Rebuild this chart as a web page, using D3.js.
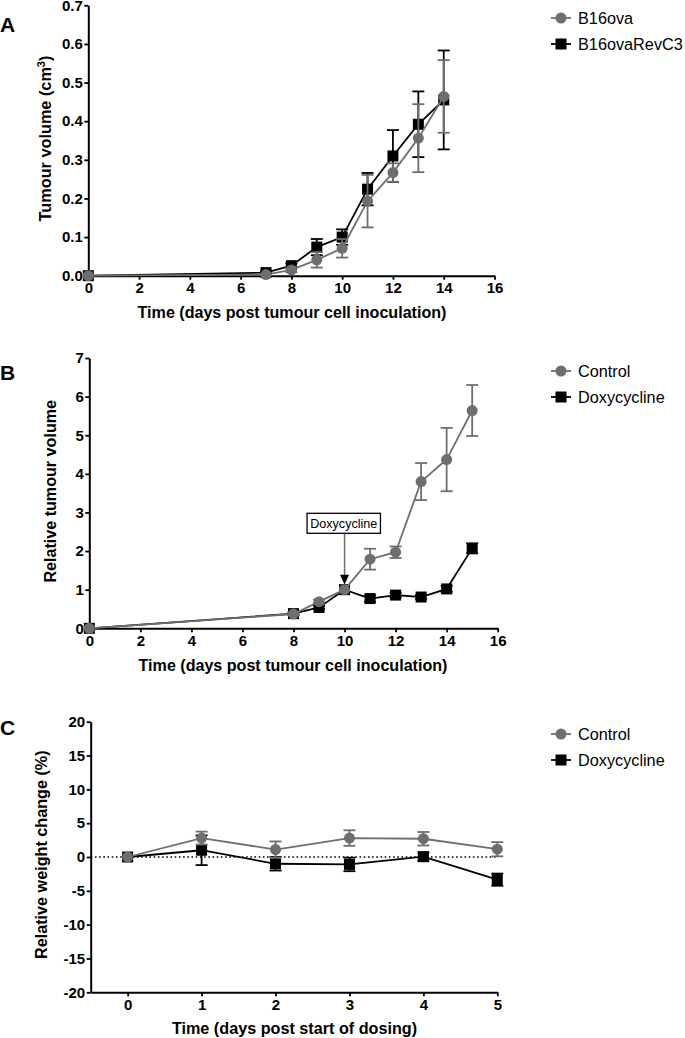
<!DOCTYPE html>
<html>
<head>
<meta charset="utf-8">
<script src="https://cdn.jsdelivr.net/npm/d3@7"></script>
<style>
  html, body { margin: 0; padding: 0; background: #fff; }
  svg { display: block; font-family: "Liberation Sans", Arial, Helvetica, sans-serif; }
</style>
</head>
<body>
<svg id="chart" width="685" height="1038"></svg>
<script>
// ---------- Panel A data ----------
const daysA = [0, 7, 8, 9, 10, 11, 12, 13, 14];
const b16ova = [0, 0.003, 0.015, 0.041, 0.071, 0.193, 0.267, 0.356, 0.464];
const b16ovaErr = [0, 0.002, 0.006, 0.02, 0.024, 0.068, 0.024, 0.088, 0.094];
const b16ovaRevC3 = [0, 0.008, 0.026, 0.074, 0.100, 0.224, 0.310, 0.392, 0.455];
const b16ovaRevC3Err = [0, 0.003, 0.006, 0.021, 0.020, 0.042, 0.067, 0.085, 0.128];
const ticksAx = [0, 2, 4, 6, 8, 10, 12, 14, 16];
const ticksAy = [0, 0.1, 0.2, 0.3, 0.4, 0.5, 0.6, 0.7];

// ---------- Panel B data ----------
const daysB = [0, 8, 9, 10, 11, 12, 13, 14, 15];
const controlB = [0, 0.37, 0.69, 1.0, 1.79, 1.97, 3.80, 4.37, 5.64];
const controlBErr = [0, 0.03, 0.05, 0, 0.27, 0.15, 0.48, 0.82, 0.66];
const doxyB = [0, 0.38, 0.54, 1.0, 0.77, 0.86, 0.81, 1.02, 2.07];
const doxyBErr = [0, 0.03, 0.04, 0, 0.08, 0.06, 0.05, 0.08, 0.13];
const ticksBx = [0, 2, 4, 6, 8, 10, 12, 14, 16];
const ticksBy = [0, 1, 2, 3, 4, 5, 6, 7];

// ---------- Panel C data ----------
const daysC = [0, 1, 2, 3, 4, 5];
const controlC = [0, 2.8, 1.1, 2.8, 2.7, 1.15];
const controlCErr = [0, 0.95, 1.2, 1.15, 1.0, 1.05];
const doxyC = [0, 1.0, -1.0, -1.1, 0.05, -3.35];
const doxyCErr = [0, 2.2, 1.0, 1.0, 0.6, 0.9];
const ticksCx = [0, 1, 2, 3, 4, 5];
const ticksCy = [-20, -15, -10, -5, 0, 5, 10, 15, 20];

const GREY = "#6e6e6e";
const BLACK = "#000000";

const svg = d3.select("#chart");

// scale a text's font size so that its rendered width matches a target width
function fitWidth(sel, target) {
  const fs = parseFloat(sel.style("font-size"));
  const w = sel.node().getComputedTextLength();
  if (w > 0) sel.style("font-size", (fs * target / w).toFixed(2) + "px");
}

// legend font size derived from the reference width of "Doxycycline"
const probe = svg.append("text").style("font-size", "100px").text("Doxycycline");
const legendFont = 100 * 86.7 / probe.node().getComputedTextLength();
probe.remove();

function drawPanel(cfg) {
  const g = svg.append("g");
  const x = d3.scaleLinear().domain(cfg.xDomain).range(cfg.xRange);
  const y = d3.scaleLinear().domain(cfg.yDomain).range(cfg.yRange);

  const xAxis = d3.axisBottom(x).tickValues(cfg.xTicks).tickSize(4).tickSizeOuter(0).tickPadding(3)
    .tickFormat(d => String(d));
  const yAxis = d3.axisLeft(y).tickValues(cfg.yTicks).tickSize(4).tickSizeOuter(0).tickPadding(1.5)
    .tickFormat(cfg.yFormat);
  const gx = g.append("g").attr("transform", `translate(0,${cfg.yRange[0]})`).call(xAxis);
  const gy = g.append("g").attr("transform", `translate(${cfg.xRange[0]},0)`).call(yAxis);
  [gx, gy].forEach(a => {
    a.select(".domain").attr("stroke", "#000").attr("stroke-width", 2);
    a.selectAll(".tick line").attr("stroke", "#000").attr("stroke-width", 1.8);
    a.selectAll(".tick text").attr("fill", "#000").style("font-size", "15px")
      .style("font-weight", "bold").style("font-family", '"Liberation Sans", Arial, sans-serif');
  });

  if (cfg.zeroLine) {
    g.append("line")
      .attr("x1", cfg.xRange[0]).attr("x2", x(cfg.xDomain[1]))
      .attr("y1", y(0)).attr("y2", y(0))
      .attr("stroke", "#000").attr("stroke-width", 1.6).attr("stroke-dasharray", "1.6,2.6");
  }

  cfg.series.forEach(s => {
    const pts = cfg.xs.map((d, i) => ({ x: d, y: s.values[i], e: s.err[i] }));
    const line = d3.line().x(d => x(d.x)).y(d => y(d.y));
    g.append("path").datum(pts).attr("d", line)
      .attr("fill", "none").attr("stroke", s.color).attr("stroke-width", 1.8);
    const eb = g.append("g");
    pts.filter(d => d.e > 0).forEach(d => {
      const cx = x(d.x), y1 = y(d.y - d.e), y2 = y(d.y + d.e);
      eb.append("line").attr("x1", cx).attr("x2", cx).attr("y1", y1).attr("y2", y2)
        .attr("stroke", s.color).attr("stroke-width", 1.8);
      [y1, y2].forEach(yy => eb.append("line").attr("x1", cx - 6).attr("x2", cx + 6)
        .attr("y1", yy).attr("y2", yy).attr("stroke", s.color).attr("stroke-width", 1.8));
    });
    pts.forEach(d => {
      if (s.shape === "circle") {
        g.append("circle").attr("cx", x(d.x)).attr("cy", y(d.y)).attr("r", 5.5).attr("fill", s.color);
      } else {
        g.append("rect").attr("x", x(d.x) - 5.5).attr("y", y(d.y) - 5.5)
          .attr("width", 11).attr("height", 11).attr("fill", s.color);
      }
    });
  });

  // Axis titles
  const xMid = cfg.xTitleMid;
  const xt = g.append("text").attr("x", xMid).attr("y", cfg.xTitleY).attr("text-anchor", "middle")
    .style("font-size", "16px").style("font-weight", "bold").text(cfg.xTitle);
  fitWidth(xt, cfg.xTitleW);
  const yMid = (cfg.yRange[0] + cfg.yRange[1]) / 2;
  const yt = g.append("text").attr("transform", `translate(${cfg.yTitleX},${cfg.yTitleMid}) rotate(-90)`)
    .attr("text-anchor", "middle").style("font-size", "16px").style("font-weight", "bold");
  cfg.yTitle(yt);
  fitWidth(yt, cfg.yTitleW);

  // Panel label
  g.append("text").attr("x", 0).attr("y", cfg.labelY).style("font-size", "21px")
    .style("font-weight", "bold").text(cfg.label);

  // Legend
  const lg = g.append("g");
  cfg.series.slice().reverse().forEach((s, i) => {
    const ly = cfg.legendY + i * 26;
    lg.append("line").attr("x1", 551).attr("x2", 571).attr("y1", ly).attr("y2", ly)
      .attr("stroke", s.color).attr("stroke-width", 1.8);
    if (s.shape === "circle") {
      lg.append("circle").attr("cx", 561).attr("cy", ly).attr("r", 5.5).attr("fill", s.color);
    } else {
      lg.append("rect").attr("x", 555.5).attr("y", ly - 5.5).attr("width", 11).attr("height", 11).attr("fill", s.color);
    }
    lg.append("text").attr("x", 578).attr("y", ly + 5.8).style("font-size", legendFont.toFixed(2) + "px").text(s.name);
  });

  return { g, x, y };
}

// Panel A
drawPanel({
  xs: daysA, xDomain: [0, 16], xRange: [88.3, 494.5],
  yDomain: [0, 0.7], yRange: [275.7, 5.3],
  xTicks: ticksAx, yTicks: ticksAy, yFormat: d3.format(".1f"),
  series: [
    { name: "B16ovaRevC3", values: b16ovaRevC3, err: b16ovaRevC3Err, color: BLACK, shape: "square" },
    { name: "B16ova", values: b16ova, err: b16ovaErr, color: GREY, shape: "circle" }
  ],
  xTitle: "Time (days post tumour cell inoculation)", xTitleY: 318, xTitleMid: 292, xTitleW: 309,
  yTitleX: 51, yTitleMid: 138.5, yTitleW: 166,
  yTitle: t => { t.append("tspan").text("Tumour volume (cm"); t.append("tspan").attr("baseline-shift", "super").style("font-size", "11px").text("3"); t.append("tspan").text(")"); },
  label: "A", labelY: 32, legendY: 18
});

// Panel B
const pB = drawPanel({
  xs: daysB, xDomain: [0, 16], xRange: [89.3, 497.7],
  yDomain: [0, 7], yRange: [628.3, 358],
  xTicks: ticksBx, yTicks: ticksBy, yFormat: d => String(d),
  series: [
    { name: "Doxycycline", values: doxyB, err: doxyBErr, color: BLACK, shape: "square" },
    { name: "Control", values: controlB, err: controlBErr, color: GREY, shape: "circle" }
  ],
  xTitle: "Time (days post tumour cell inoculation)", xTitleY: 671, xTitleMid: 293, xTitleW: 309,
  yTitleX: 55.5, yTitleMid: 491.3, yTitleW: 182.7,
  yTitle: t => t.text("Relative tumour volume"),
  label: "B", labelY: 380, legendY: 371
});

// Doxycycline annotation in panel B
(function () {
  const ax = pB.x(10);
  const boxTop = 513.3, boxH = 20, boxW = 73.4;
  const tipY = pB.y(1) - 5;
  pB.g.append("line").attr("x1", ax).attr("x2", ax).attr("y1", boxTop + boxH).attr("y2", tipY - 9)
    .attr("stroke", "#6e6e6e").attr("stroke-width", 1.5);
  pB.g.append("path").attr("d", `M${ax - 4.5},${tipY - 10} L${ax + 4.5},${tipY - 10} L${ax},${tipY} Z`).attr("fill", "#000");
  pB.g.append("rect").attr("x", ax - 37.5).attr("y", boxTop).attr("width", boxW).attr("height", boxH)
    .attr("fill", "#fff").attr("stroke", "#000").attr("stroke-width", 1.3);
  const bt = pB.g.append("text").attr("x", ax - 37.5 + boxW / 2).attr("y", boxTop + 14.5).attr("text-anchor", "middle")
    .style("font-size", "13px").text("Doxycycline");
  fitWidth(bt, 67);
})();

// Panel C
drawPanel({
  xs: daysC, xDomain: [-0.5, 5], xRange: [90.7, 497.3],
  yDomain: [-20, 20], yRange: [992.3, 721.7],
  xTicks: ticksCx, yTicks: ticksCy, yFormat: d => String(d),
  zeroLine: true,
  series: [
    { name: "Doxycycline", values: doxyC, err: doxyCErr, color: BLACK, shape: "square" },
    { name: "Control", values: controlC, err: controlCErr, color: GREY, shape: "circle" }
  ],
  xTitle: "Time (days post start of dosing)", xTitleY: 1033.5, xTitleMid: 294.5, xTitleW: 245.6,
  yTitleX: 47, yTitleMid: 854.7, yTitleW: 209,
  yTitle: t => t.text("Relative weight change (%)"),
  label: "C", labelY: 735, legendY: 734
});
</script>
</body>
</html>
